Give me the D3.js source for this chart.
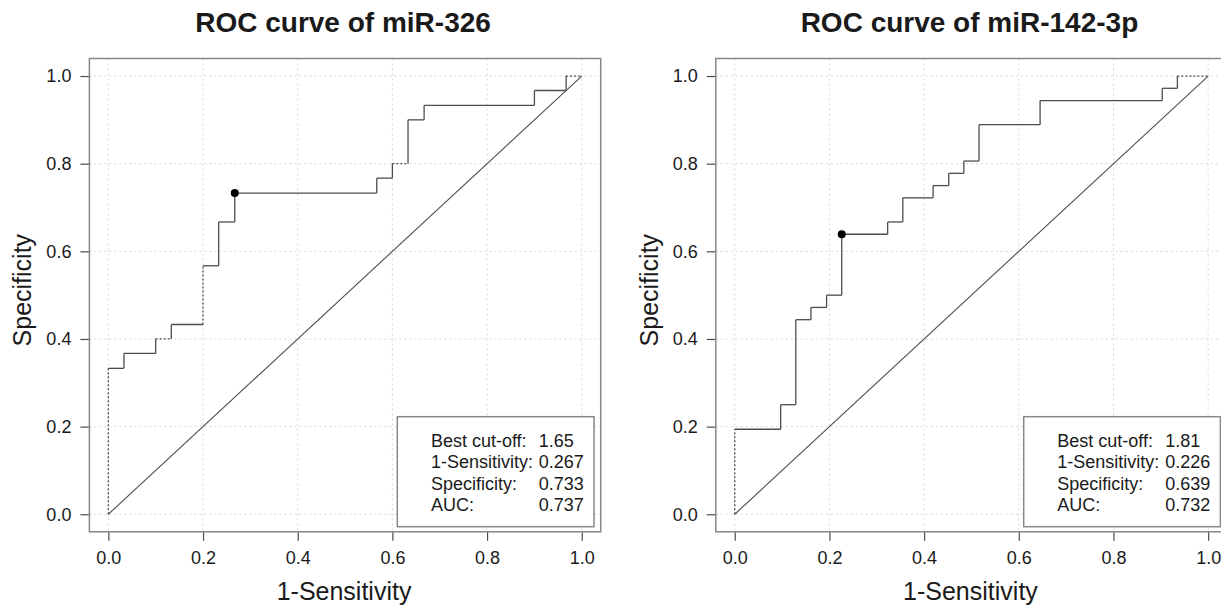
<!DOCTYPE html>
<html>
<head>
<meta charset="utf-8">
<script src="https://cdn.jsdelivr.net/npm/d3@7"></script>
<style>
  body { margin: 0; background: #fff; }
  svg { display: block; font-family: "Liberation Sans", Arial, sans-serif; }
</style>
</head>
<body>
<svg id="chart" width="1221" height="607"></svg>
<script>
// ROC corners (1-Sensitivity, Specificity)
const FPR_326 = [0, 0, 0.033, 0.033, 0.1, 0.1, 0.133, 0.133, 0.2, 0.2, 0.233, 0.233, 0.267, 0.267,
                 0.567, 0.567, 0.6, 0.6, 0.633, 0.633, 0.667, 0.667, 0.9, 0.9, 0.967, 0.967, 1];
const SPEC_326 = [0, 0.333, 0.333, 0.367, 0.367, 0.4, 0.4, 0.433, 0.433, 0.567, 0.567, 0.667, 0.667, 0.733,
                  0.733, 0.767, 0.767, 0.8, 0.8, 0.9, 0.9, 0.933, 0.933, 0.967, 0.967, 1, 1];

const FPR_142 = [0, 0, 0.097, 0.097, 0.129, 0.129, 0.161, 0.161, 0.194, 0.194, 0.226, 0.226,
                 0.323, 0.323, 0.355, 0.355, 0.419, 0.419, 0.452, 0.452, 0.484, 0.484, 0.516, 0.516,
                 0.645, 0.645, 0.903, 0.903, 0.935, 0.935, 1];
const SPEC_142 = [0, 0.194, 0.194, 0.25, 0.25, 0.444, 0.444, 0.472, 0.472, 0.5, 0.5, 0.639,
                  0.639, 0.667, 0.667, 0.722, 0.722, 0.75, 0.75, 0.778, 0.778, 0.806, 0.806, 0.889,
                  0.889, 0.944, 0.944, 0.972, 0.972, 1, 1];

// best cut-off points
const BEST_326 = [0.267, 0.733];
const BEST_142 = [0.226, 0.639];

const LEGEND_LABELS = ["Best cut-off:", "1-Sensitivity:", "Specificity:", "AUC:"];
const LEGEND_326 = ["1.65", "0.267", "0.733", "0.737"];
const LEGEND_142 = ["1.81", "0.226", "0.639", "0.732"];

const TICKS = [0, 0.2, 0.4, 0.6, 0.8, 1.0];

const panels = [
    { title: "ROC curve of miR-326", fpr: FPR_326, spec: SPEC_326, best: BEST_326, legend: LEGEND_326,
      left: 89.4, dashed: [0, 5, 8, 17, 25] },
    { title: "ROC curve of miR-142-3p", fpr: FPR_142, spec: SPEC_142, best: BEST_142, legend: LEGEND_142,
      left: 715.8, dashed: [0, 29] }
];

const svg = d3.select("#chart");
const TOP = 58.5, BOX_W = 511.3, BOX_H = 473.3;
const TXT = "#1a1a1a", LINE = "#4d4d4d";

panels.forEach(p => {
    const x = d3.scaleLinear().domain([-0.04, 1.04]).range([p.left, p.left + BOX_W]);
    const y = d3.scaleLinear().domain([-0.04, 1.04]).range([TOP + BOX_H, TOP]);
    const g = svg.append("g");

    // grid
    g.selectAll(".vgrid").data(TICKS).join("line")
        .attr("x1", d => x(d)).attr("x2", d => x(d))
        .attr("y1", TOP).attr("y2", TOP + BOX_H)
        .attr("stroke", "#d6d6d6").attr("stroke-dasharray", "2,3");
    g.selectAll(".hgrid").data(TICKS).join("line")
        .attr("y1", d => y(d)).attr("y2", d => y(d))
        .attr("x1", p.left).attr("x2", p.left + BOX_W)
        .attr("stroke", "#d6d6d6").attr("stroke-dasharray", "2,3");

    // diagonal
    g.append("line")
        .attr("x1", x(0)).attr("y1", y(0)).attr("x2", x(1)).attr("y2", y(1))
        .attr("stroke", LINE).attr("stroke-width", 1.1);

    // curve, segment by segment
    const segs = d3.range(p.fpr.length - 1);
    g.selectAll(".seg").data(segs).join("line")
        .attr("x1", i => x(p.fpr[i])).attr("y1", i => y(p.spec[i]))
        .attr("x2", i => x(p.fpr[i + 1])).attr("y2", i => y(p.spec[i + 1]))
        .attr("stroke", LINE).attr("stroke-width", 1.3)
        .attr("stroke-dasharray", i => p.dashed.includes(i) ? "2,2" : null);

    g.append("circle")
        .attr("cx", x(p.best[0])).attr("cy", y(p.best[1])).attr("r", 4)
        .attr("fill", "#000");

    // axes
    const ax = g.append("g").attr("transform", `translate(${p.left},0)`)
        .call(d3.axisLeft(y).tickValues(TICKS).tickFormat(d3.format(".1f")).tickSize(9).tickPadding(9));
    const bx = g.append("g").attr("transform", `translate(0,${TOP + BOX_H})`)
        .call(d3.axisBottom(x).tickValues(TICKS).tickFormat(d3.format(".1f")).tickSize(9).tickPadding(10));
    [ax, bx].forEach(a => {
        a.select(".domain").remove();
        a.selectAll(".tick line").attr("stroke", LINE).attr("stroke-width", 1.2);
        a.selectAll(".tick text").attr("fill", TXT).attr("font-size", 18)
            .attr("font-family", "Liberation Sans, Arial, sans-serif");
    });

    // box
    g.append("rect")
        .attr("x", p.left).attr("y", TOP).attr("width", BOX_W).attr("height", BOX_H)
        .attr("fill", "none").attr("stroke", "#888").attr("stroke-width", 1.5);

    // legend
    const lw = 196.7, lh = 110;
    const lx = p.left + BOX_W - 6.7 - lw, ly = 416.7;
    g.append("rect").attr("x", lx).attr("y", ly).attr("width", lw).attr("height", lh)
        .attr("fill", "#fff").attr("stroke", "#888").attr("stroke-width", 1.5);
    LEGEND_LABELS.forEach((lab, i) => {
        const by = ly + 30 + i * 21.4;
        g.append("text").attr("x", lx + 33.6).attr("y", by).attr("font-size", 18)
            .attr("fill", TXT).text(lab);
        g.append("text").attr("x", lx + 141.5).attr("y", by).attr("font-size", 18)
            .attr("fill", TXT).text(p.legend[i]);
    });

    // titles
    const cx = p.left + BOX_W / 2;
    g.append("text").attr("x", cx - 2).attr("y", 32).attr("text-anchor", "middle")
        .attr("font-size", 28).attr("font-weight", "bold").attr("fill", TXT).text(p.title);
    g.append("text").attr("x", cx - 1).attr("y", 600).attr("text-anchor", "middle")
        .attr("font-size", 25).attr("fill", TXT).text("1-Sensitivity");
    g.append("text").attr("transform", `translate(${p.left - 58},${TOP + BOX_H / 2 - 5}) rotate(-90)`)
        .attr("text-anchor", "middle").attr("font-size", 25).attr("fill", TXT).text("Specificity");
});
</script>
</body>
</html>
